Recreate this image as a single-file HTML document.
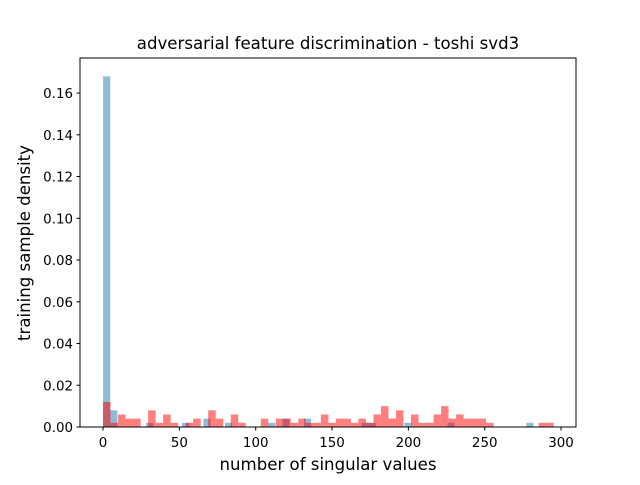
<!DOCTYPE html>
<html><head><meta charset="utf-8"><style>
body{margin:0;background:#fff;}
svg text{font-family:"DejaVu Sans","Liberation Sans",sans-serif;fill:#000;}
</style></head><body>
<svg id="chart" width="640" height="480" xmlns="http://www.w3.org/2000/svg">
<rect width="640" height="480" fill="#fff"/>
<g id="bars"></g>
<g id="axes"></g>
<text x="328" y="49" font-size="16.6" text-anchor="middle">adversarial feature discrimination - toshi svd3</text>
<text x="328" y="470" font-size="16.6" text-anchor="middle">number of singular values</text>
<text x="0" y="0" font-size="16.6" text-anchor="middle" transform="translate(30,243) rotate(-90)">training sample density</text>
</svg>
<script>
const blueBinWidth = 4.7;
const redBinWidth = 4.92;
const blueBins = [0,1,6,11,14,17,23,25,28,36,37,42,48,59];
const blueValues = [0.168,0.008,0.002,0.002,0.004,0.002,0.002,0.004,0.004,0.002,0.002,0.002,0.002,0.002];
const redBins = [0,1,2,3,4,6,7,8,9,11,12,14,15,17,18,21,23,24,25,26,27,28,29,30,31,32,33,34,35,36,37,38,39,41,42,43,44,45,46,47,48,49,50,51,58,59];
const redValues = [0.012,0.002,0.006,0.004,0.004,0.008,0.002,0.006,0.002,0.002,0.004,0.008,0.004,0.006,0.002,0.004,0.004,0.004,0.002,0.004,0.002,0.002,0.006,0.002,0.004,0.004,0.002,0.004,0.002,0.006,0.010,0.004,0.008,0.006,0.002,0.002,0.006,0.010,0.004,0.006,0.004,0.004,0.004,0.002,0.002,0.002];
const xTicks = [0,50,100,150,200,250,300];
const yTicks = [0,0.02,0.04,0.06,0.08,0.10,0.12,0.14,0.16];
const L=80,R=576,T=58,B=427, xmin=-15.1, xmax=309.8, ymax=0.1768;
const xs=v=>L+(v-xmin)/(xmax-xmin)*(R-L);
const ys=v=>B-v/ymax*(B-T);
const NS="http://www.w3.org/2000/svg";
const bars=document.getElementById('bars'), axes=document.getElementById('axes');
function mk(tag,attrs,parent){const e=document.createElementNS(NS,tag);for(const k in attrs)e.setAttribute(k,attrs[k]);parent.appendChild(e);return e;}
blueBins.forEach((b,i)=>{const x0=xs(b*blueBinWidth),x1=xs((b+1)*blueBinWidth);
 const r=mk('rect',{x:x0,y:ys(blueValues[i]),width:x1-x0,height:B-ys(blueValues[i]),fill:'#1f77b4','fill-opacity':0.5},bars);
 
 });
redBins.forEach((b,i)=>{const x0=xs(b*redBinWidth),x1=xs((b+1)*redBinWidth);
 const r=mk('rect',{x:x0,y:ys(redValues[i]),width:x1-x0,height:B-ys(redValues[i]),fill:'#ff0000','fill-opacity':0.5},bars);
 
 });
const frame=mk('rect',{x:L,y:T,width:R-L,height:B-T,fill:'none',stroke:'#000','stroke-width':1},axes);


xTicks.forEach(t=>{const x=xs(t);mk('line',{x1:x,x2:x,y1:B,y2:B+3.5,stroke:'#000'},axes);
 const tx=mk('text',{x:x,y:B+20,'font-size':13.4,'text-anchor':'middle'},axes);tx.textContent=t;
 
 });
yTicks.forEach(t=>{const y=ys(t);mk('line',{x1:L-3.5,x2:L,y1:y,y2:y,stroke:'#000'},axes);
 const tx=mk('text',{x:L-7,y:y+5,'font-size':13.4,'text-anchor':'end'},axes);tx.textContent=t.toFixed(2);
 
 });
</script>
</body></html>
